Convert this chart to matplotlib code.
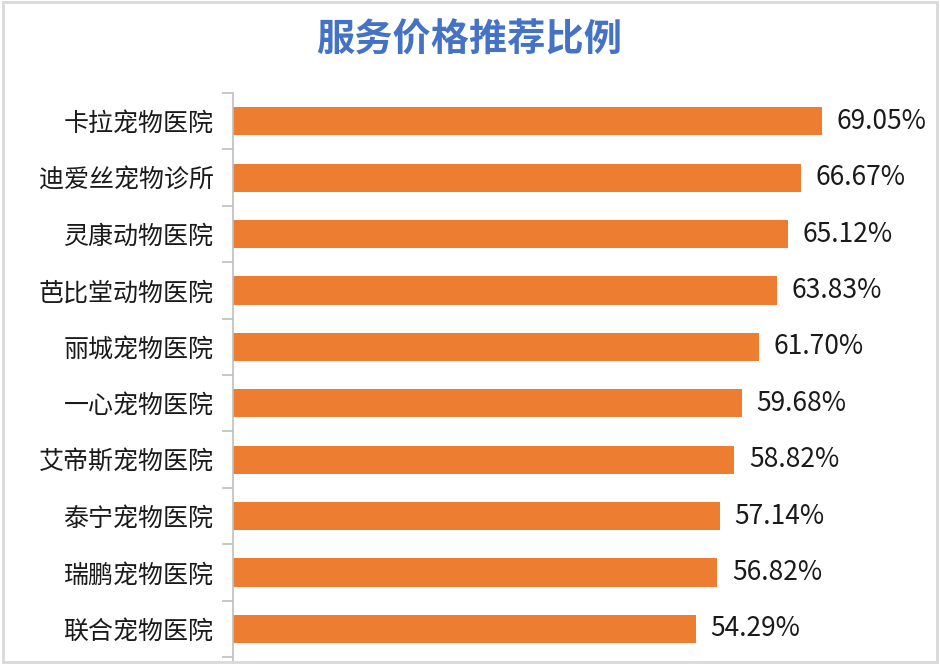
import matplotlib
matplotlib.use('Agg')
import matplotlib.pyplot as plt
from matplotlib.patches import Rectangle

plt.rcParams['font.family'] = ['Noto Sans CJK SC', 'DejaVu Sans']

hospitals = ['卡拉宠物医院', '迪爱丝宠物诊所', '灵康动物医院', '芭比堂动物医院', '丽城宠物医院',
             '一心宠物医院', '艾帝斯宠物医院', '泰宁宠物医院', '瑞鹏宠物医院', '联合宠物医院']
ratios = [69.05, 66.67, 65.12, 63.83, 61.70, 59.68, 58.82, 57.14, 56.82, 54.29]
title = '服务价格推荐比例'

bar_color = '#ED7D31'
axis_color = '#BFBFBF'

fig = plt.figure(figsize=(9.4, 6.64), dpi=100)
fig.patch.set_facecolor('white')

# axes runs past the bottom edge, like the cropped original
ax = fig.add_axes([233 / 940, (664 - 700) / 664, 682 / 940, 607 / 664])

pos = list(range(len(hospitals)))
ax.barh(pos, ratios, height=0.5, color=bar_color)

for y, v in zip(pos, ratios):
    ax.text(v + 1.7, y, '%.2f%%' % v, va='center', ha='left', fontsize=19, color='#1a1a1a')

ax.set_xlim(0, 80)
ax.set_ylim(10.26, -0.5)

ax.set_yticks(pos)
ax.set_yticklabels(hospitals, fontsize=18, color='#1a1a1a')
ax.set_yticks([p + 0.5 for p in [-1] + pos], minor=True)
ax.tick_params(axis='y', which='major', length=0, pad=14)
ax.tick_params(axis='y', which='minor', length=8, width=1.2, color=axis_color)
ax.set_xticks([])

for side in ['top', 'right', 'bottom']:
    ax.spines[side].set_visible(False)
ax.spines['left'].set_color(axis_color)
ax.spines['left'].set_linewidth(1.2)

fig.text(469 / 940, 1 - 40 / 664, title, ha='center', va='center', fontsize=27.5,
         fontweight='bold', color='#4472C4')

# thin frame around the picture
fig.patches.append(Rectangle((0.003, 0.003), 0.994, 0.994, transform=fig.transFigure,
                             fill=False, edgecolor='#D9D9D9', linewidth=2))

fig.savefig('out.png', dpi=100)
